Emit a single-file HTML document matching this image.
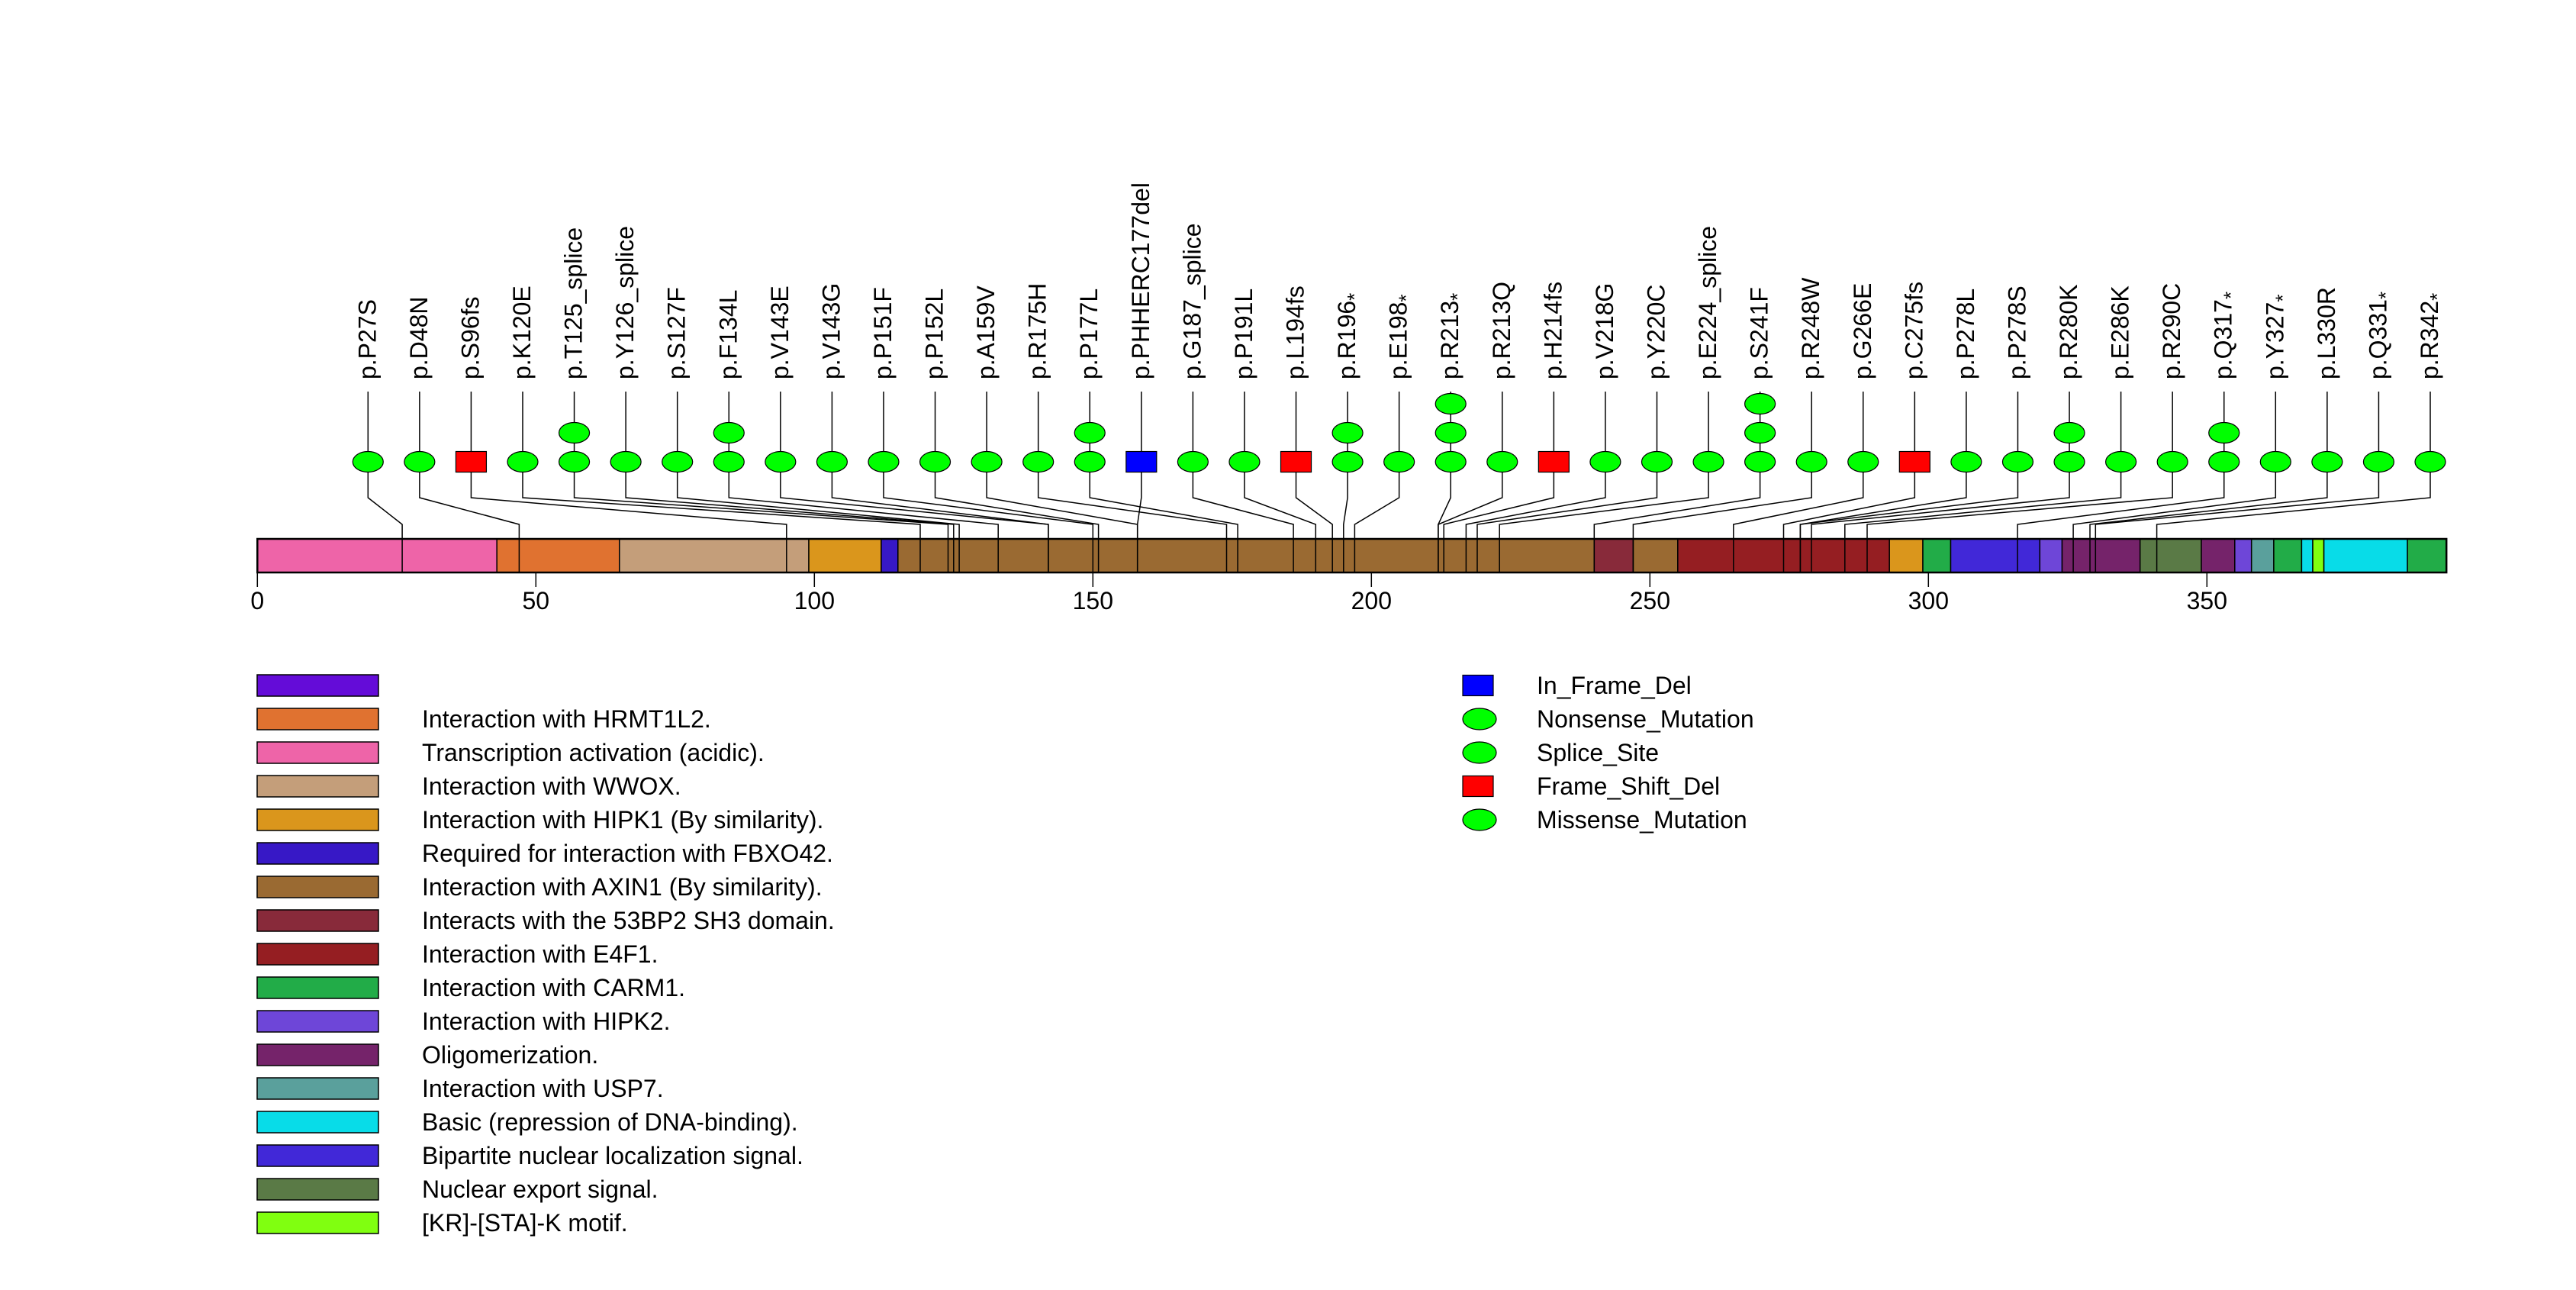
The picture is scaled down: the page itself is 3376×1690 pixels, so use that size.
<!DOCTYPE html>
<html>
<head>
<meta charset="utf-8">
<style>
html,body{margin:0;padding:0;background:#fff;}
svg{display:block;font-family:"Liberation Sans",Arial,sans-serif;}
</style>
</head>
<body>
<svg id="chart" width="3376" height="1690" viewBox="0 0 3376 1690" xmlns="http://www.w3.org/2000/svg">
<rect width="3376" height="1690" fill="#fff"/>
</svg>
<script>
// ---- data ----
const proteinLength = 393;
const mutLabels = ["p.P27S","p.D48N","p.S96fs","p.K120E","p.T125_splice","p.Y126_splice","p.S127F","p.F134L","p.V143E","p.V143G","p.P151F","p.P152L","p.A159V","p.R175H","p.P177L","p.PHHERC177del","p.G187_splice","p.P191L","p.L194fs","p.R196*","p.E198*","p.R213*","p.R213Q","p.H214fs","p.V218G","p.Y220C","p.E224_splice","p.S241F","p.R248W","p.G266E","p.C275fs","p.P278L","p.P278S","p.R280K","p.E286K","p.R290C","p.Q317*","p.Y327*","p.L330R","p.Q331*","p.R342*"];
const mutPositions = [27,48,96,120,125,126,127,134,143,143,151,152,159,175,177,159,187,191,194,196,198,213,213,214,218,220,224,241,248,266,275,278,278,280,286,290,317,327,330,331,342];
const mutCounts = [1,1,1,1,2,1,1,2,1,1,1,1,1,1,2,1,1,1,1,2,1,3,1,1,1,1,1,3,1,1,1,1,1,2,1,1,2,1,1,1,1];
const mutTypes = ["m","m","fs","m","sp","sp","m","m","m","m","m","m","m","m","m","ifd","sp","m","fs","n","n","n","m","fs","m","m","sp","m","m","m","fs","m","m","m","m","m","n","n","m","n","n"];
const domainStarts = [0,43,65,99,112,115,240,247,255,293,299,304,320,324,338,349,355,358,362,367,369,371,386];
const domainEnds   = [43,65,99,112,115,240,247,255,293,299,304,320,324,338,349,355,358,362,367,369,371,386,393];
const domainColors = ["#ee64a8","#e07230","#c49e7a","#da961c","#3718c6","#9a6a32","#882a3a","#9a6a32","#951e22","#da961c","#22ac48","#4128d8","#6e46d8","#75236a","#5a7a46","#75236a","#6e46d8","#5aa09c","#22ac48","#08dce8","#80ff10","#08dce8","#22ac48"];
const axisTicks = [0,50,100,150,200,250,300,350];
const legendLabels = ["","Interaction with HRMT1L2.","Transcription activation (acidic).","Interaction with WWOX.","Interaction with HIPK1 (By similarity).","Required for interaction with FBXO42.","Interaction with AXIN1 (By similarity).","Interacts with the 53BP2 SH3 domain.","Interaction with E4F1.","Interaction with CARM1.","Interaction with HIPK2.","Oligomerization.","Interaction with USP7.","Basic (repression of DNA-binding).","Bipartite nuclear localization signal.","Nuclear export signal.","[KR]-[STA]-K motif."];
const legendColors = ["#640cd8","#e07230","#ee64a8","#c49e7a","#da961c","#3718c6","#9a6a32","#882a3a","#951e22","#22ac48","#6e46d8","#75236a","#5aa09c","#08dce8","#4128d8","#5a7a46","#80ff10"];
const typeLegendLabels = ["In_Frame_Del","Nonsense_Mutation","Splice_Site","Frame_Shift_Del","Missense_Mutation"];
const typeLegendShapes = ["ifd","n","sp","fs","m"];

// ---- layout ----
const NS="http://www.w3.org/2000/svg";
const svg=document.getElementById('chart');
const X0=337.3, PX=7.3;
const xAA=a=>X0+a*PX;
const barTop=706, barBot=750;
const colX0=482.3, colX1=3185;
const colX=i=>colX0+i*(colX1-colX0)/(mutLabels.length-1);
function mk(tag,attrs,parent){const e=document.createElementNS(NS,tag);for(const k in attrs)e.setAttribute(k,attrs[k]);(parent||svg).appendChild(e);return e;}

// bar domains
const gBar=mk('g',{});


for(let i=0;i<domainStarts.length;i++){
  const r=mk('rect',{x:xAA(domainStarts[i]),y:barTop,width:xAA(domainEnds[i])-xAA(domainStarts[i]),height:barBot-barTop,fill:domainColors[i],stroke:'#000','stroke-width':1.5},gBar);
  
  
}
mk('rect',{x:xAA(0),y:barTop,width:xAA(proteinLength)-xAA(0),height:barBot-barTop,fill:'none',stroke:'#000','stroke-width':2.5},gBar);

// axis
const gAx=mk('g',{});


axisTicks.forEach(t=>{
  const x=xAA(t);
  mk('line',{x1:x,y1:barBot,x2:x,y2:769,stroke:'#000','stroke-width':1.5},gAx);
  const tx=mk('text',{x:x,y:798,'font-size':32,'text-anchor':'middle',fill:'#000'},gAx);
  tx.textContent=t;
  
  
});

// mutations
mutLabels.forEach((lab,i)=>{
  const cx=colX(i), px=xAA(mutPositions[i]-1);
  const g=mk('g',{});
  
  
  mk('polyline',{points:`${cx},513 ${cx},652 ${px},687 ${px},${barBot}`,fill:'none',stroke:'#000','stroke-width':1.5},g);
  const t=mk('text',{transform:`translate(${cx+10},497) rotate(-90)`,'font-size':32,fill:'#000'},g);
  
  
  if(lab.endsWith('*')){
    t.appendChild(document.createTextNode(lab.slice(0,-1)));
    const s=mk('tspan',{'font-size':26,dy:8},t);s.textContent='*';
  } else t.textContent=lab;
  for(let k=0;k<mutCounts[i];k++){
    const cy=605-38*k;
    const ty=mutTypes[i];
    if(ty==='fs'||ty==='ifd'){
      const r=mk('rect',{x:cx-20,y:cy-13.5,width:40,height:27,fill:ty==='fs'?'#ff0000':'#0000ff',stroke:'#000','stroke-width':1.2},g);
      
      
    } else {
      const e=mk('ellipse',{cx:cx,cy:cy,rx:20,ry:13.5,fill:'#00ff00',stroke:'#000','stroke-width':1.2},g);
      
      
    }
  }
});

// domain legend
const gL=mk('g',{});


legendLabels.forEach((lab,i)=>{
  const cy=898+44*i;
  const g=mk('g',{},gL);
  
  
  mk('rect',{x:337,y:cy-14,width:159,height:28,fill:legendColors[i],stroke:'#000','stroke-width':1.5},g);
  const t=mk('text',{x:553,y:cy+11,'font-size':32,fill:'#000'},g);
  t.textContent=lab;
});

// type legend
const gT=mk('g',{});


typeLegendLabels.forEach((lab,i)=>{
  const cy=898+44*i;
  const g=mk('g',{},gT);
  
  
  const sh=typeLegendShapes[i];
  if(sh==='fs'||sh==='ifd') mk('rect',{x:1917,y:cy-13.5,width:40,height:27,fill:sh==='fs'?'#ff0000':'#0000ff',stroke:'#000','stroke-width':1.2},g);
  else mk('ellipse',{cx:1939,cy:cy,rx:22,ry:14,fill:'#00ff00',stroke:'#000','stroke-width':1.2},g);
  const t=mk('text',{x:2014,y:cy+11,'font-size':32,fill:'#000'},g);
  t.textContent=lab;
});
</script>
</body>
</html>
